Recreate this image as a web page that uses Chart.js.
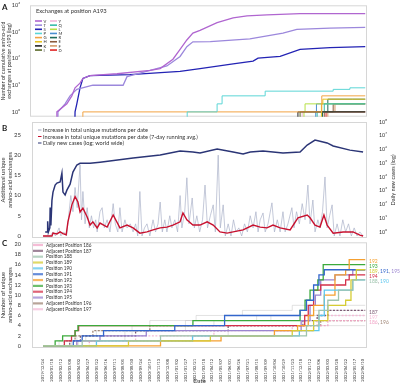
<!DOCTYPE html>
<html lang="en">
<head>
<meta charset="UTF-8">
<title>Exchanges at position A193</title>
<script src="https://cdn.jsdelivr.net/npm/chart.js"></script>
<style>
  body { margin: 0; background: #fff; }
  #wrap { position: relative; width: 400px; height: 386px; overflow: hidden; font-family: Lato, sans-serif; }
  #wrap canvas { position: absolute; left: 0; }
  .tag { position: absolute; left: 2px; font: bold 8px Lato, sans-serif; color: #222; }
</style>
</head>
<body>
<div id="wrap">
  <canvas id="chartA" width="400" height="122" style="top:0"></canvas>
  <canvas id="chartB" width="400" height="144" style="top:110px"></canvas>
  <canvas id="chartC" width="400" height="150" style="top:236px"></canvas>
  <div class="tag" style="top:2px">A</div>
  <div class="tag" style="top:123px">B</div>
  <div class="tag" style="top:238px">C</div>
</div>

<script>
// ---- data: days counted from 2019/12/24 ----
const dateTicks = ['2019/12/24','2020/01/18','2020/02/12','2020/03/08','2020/04/02','2020/04/27','2020/05/22',
  '2020/06/16','2020/07/11','2020/08/05','2020/08/30','2020/09/24','2020/10/19','2020/11/13','2020/12/08',
  '2021/01/02','2021/01/27','2021/02/21','2021/03/18','2021/04/12','2021/05/07','2021/06/01','2021/06/26',
  '2021/07/21','2021/08/15','2021/09/09','2021/10/04','2021/10/29','2021/11/23','2021/12/18','2022/01/12',
  '2022/02/06','2022/03/03','2022/03/28','2022/04/22','2022/05/17','2022/06/10'];

// panel A: cumulative exchanges at A193, [day, count]
const exchCodes  = ['V','T','S','P','G','H','K','I','Y','Q','L','M','R','E','F','D'];
const exchColors = ['#b066d0','#9c88dc','#2323b4','#5cd6d6','#f2a444','#e6c21e','#222222','#5b6b2a',
                    '#f2b8d8','#36bca8','#b6e046','#4a8fd0','#1f6b5a','#8b5a3c','#d49a6a','#e02424'];
const exV = [[39,1],[67,2],[81,4],[90,8],[104,12],[112,18],[132,23],[208,27],[301,36],[329,42],[365,95],
  [385,220],[404,500],[421,900],[441,1150],[489,2240],[534,3400],[573,4000],[629,4350],[722,4900],[905,4900]];
const exT = [[42,1],[62,2],[76,4],[95,7],[140,10],[225,10],[236,21],[301,36],[348,53],[385,120],[404,280],[421,425],
  [470,430],[581,550],[674,900],[713,1250],[806,1400],[905,1480]];
const exS = [[90,1],[95,2],[104,8],[112,18],[132,23],[244,25],[385,33],[441,42],[534,63],[590,80],[604,104],
  [666,122],[722,220],[806,260],[905,280]];
const exP = [[405,1],[489,2],[503,4],[624,6],[815,7],[862,8],[905,8]];
const exG = [[112,1],[783,4],[905,4]];
const exH = [[782,2],[786,3],[905,3]];
const exK = [[716,1],[905,1]];
const exI = [[722,1],[905,1]];
const exY = [[728,1],[905,1]];
const exQ = [[770,1],[790,2],[905,2]];
const exL = [[733,1],[736,2],[905,2]];
const exM = [[766,1],[768,2],[905,2]];
const exR = [[785,1],[800,3],[870,3],[905,3]];
const exE = [[790,1],[815,2],[905,2]];
const exF = [[800,1],[820,2],[905,2]];
const exD = [[795,1],[905,1]];

// panel B: unique mutations per date and daily world cases, [day, value]
const mutRaw = [[0,0],[20,0],[28,1],[35,0],[45,2],[50,0],[58,1],[66,0],[72,5],[78,10],[84,6],[90,12],[96,7],
  [104,17.6],[108,4],[112,11],[118,3],[124,7],[130,2],[136,5],[142,2],[148,4],[152,1],[160,6],[166,7],[172,2],
  [180,4],[188,1],[197,8],[203,3],[210,1],[216,7],[222,1],[230,4],[236,2],[245,3],[253,1],[260,3],[266,0],
  [272,11],[278,0],[285,2],[292,3],[300,0],[309,4],[316,1],[323,3],[329,8.4],[335,1],[342,4],[348,1],[356,5],
  [362,2],[370,4],[378,1],[385,10],[390,2],[398,6],[404,14.4],[410,3],[419,9.4],[425,2],[432,5],[440,1],
  [448,4],[455,12.6],[462,2],[470,5],[478,7.7],[484,1],[492,20],[498,2],[506,7.7],[512,0],[520,3],[528,0],
  [535,4],[542,1],[550,2],[558,0],[566,3],[574,1],[582,5],[590,2],[598,6],[604,1],[610,4],[618,5.7],[624,1],
  [632,3],[643,8.2],[650,1],[658,4],[666,1],[674,6],[680,1],[688,3],[699,7],[705,2],[712,6],[720,3],[728,8],
  [736,4],[744,12.6],[750,3],[758,8.9],[764,1],[772,4],[778,2],[785,6],[792,14.6],[798,2],[805,5],[812,7.7],
  [818,0],[826,3],[834,0],[842,4],[850,1],[858,3],[866,0],[874,2],[882,0],[890,1],[899,0]];
const mutAvg = [[0,0],[25,0],[28,0.7],[39,0.5],[48,1],[56,0.6],[65,0.3],[70,3.5],[81,7.7],[90,9.7],[98,8.4],
  [104,5.9],[112,6.9],[124,4.7],[132,2.7],[140,3.5],[152,2],[160,3.2],[180,2.2],[197,5.2],[216,2],[236,2.7],
  [253,2],[272,0.7],[292,1],[309,1.5],[329,2],[348,2.2],[365,2.7],[385,3.5],[393,5.7],[404,4],[421,2.7],
  [441,2.7],[461,3.5],[478,2.7],[497,1],[517,0.7],[534,1],[562,1.5],[590,2.7],[610,2.2],[629,2],[646,2.7],
  [666,2],[694,1.5],[716,4.5],[742,5.2],[750,4.5],[764,2.7],[778,2.2],[789,5.2],[798,2.7],[815,0.7],[843,1],
  [871,1],[890,0.2],[899,0]];
const dailyCases = [[6,1],[12,1],[13,6],[15,1],[19,2],[20,60],[22,3],[25,200],[28,800],[34,2600],[39,3600],
  [48,4300],[53,19000],[56,800],[62,500],[67,1100],[76,3000],[84,23000],[95,75000],[104,100000],[132,100000],
  [160,120000],[253,240000],[329,400000],[385,780000],[421,650000],[441,560000],[489,1100000],[534,650000],
  [562,470000],[582,650000],[618,780000],[674,560000],[722,650000],[742,2100000],[764,4900000],[798,3000000],
  [815,1800000],[862,900000],[899,650000]];

// panel C: unique exchanges per position, [day, count]
const posNames  = ['Adjacent Position 186','Adjacent Position 187','Position 188','Position 189','Position 190',
  'Position 191','Position 192','Position 193','Position 194','Position 195','Adjacent Position 196','Adjacent Position 197'];
const posColors = ['#f2a6c8','#7c5a74','#9fc4ae','#d6cc34','#5cc6ee','#3366cc','#f5a030','#3caa3c','#d4304a',
  '#9b85d0','#a08676','#f4bcd8'];
const posDashed = [true,true,false,false,false,false,false,false,false,false,true,true];
const p186 = [[0,0],[130,1],[420,2],[650,3],[760,4],[800,5],[905,5]];
const p187 = [[0,0],[75,1],[105,2],[260,3],[520,4],[730,5],[770,6],[800,7],[905,7]];
const p188 = [[0,0],[110,1],[330,2],[740,4],[775,7],[800,9],[830,11],[870,13],[905,13]];
const p189 = [[0,0],[240,1],[470,2],[700,3],[760,5],[800,8],[850,9],[865,13],[880,15],[905,15]];
const p190 = [[0,0],[150,1],[420,2],[720,3],[775,6],[790,11],[870,13],[905,13]];
const p191 = [[0,0],[85,1],[110,2],[170,3],[370,4],[510,6],[722,7],[740,9],[760,12],[775,14],[790,15],[905,15]];
const p192 = [[0,0],[330,1],[500,2],[650,3],[715,4],[745,6],[760,8],[790,10],[820,14],[850,15],[860,17],[905,17]];
const p193 = [[0,0],[34,1],[55,2],[90,3],[98,4],[421,5],[722,7],[736,9],[750,11],[772,13],[787,16],[905,16]];
const p194 = [[0,0],[60,1],[80,2],[90,3],[100,4],[720,4],[735,6],[745,8],[760,11],[780,12],[850,13],[860,14],[905,14]];
const p195 = [[0,0],[95,1],[160,2],[290,3],[725,5],[750,8],[765,10],[780,13],[820,14],[870,15],[905,15]];
const p196 = [[0,0],[60,1],[90,2],[140,3],[300,4],[780,5],[905,5]];
const p197 = [[0,0],[95,1],[260,2],[480,3],[700,4],[770,5],[800,6],[905,6]];
const bgLine1 = [[0,0],[45,1],[95,2],[150,3],[300,5],[430,6],[560,7],[700,8],[905,8]];
const bgLine2 = [[0,0],[80,1],[120,2],[250,4],[480,5],[640,6],[905,6]];
const bgLine3 = [[0,0],[100,1],[330,2],[520,3],[760,4],[905,4]];
const bgLine4 = [[0,0],[60,1],[230,3],[400,5],[600,6],[760,7],[905,7]];

const logTicksA = [1, 10, 100, 1000, 10000];
const logTicksB = [1, 10, 100, 1e3, 1e4, 1e5, 1e6, 1e7, 1e8];
const linTicksB = [0, 5, 10, 15, 20, 25];
const linTicksC = [0, 2, 4, 6, 8, 10, 12, 14, 16, 18, 20];

// ---- helpers ----
const FONT = 'Lato, sans-serif';
const START = Date.UTC(2019, 11, 24);
function dayOf(s) {
  const [y, m, d] = s.split('/').map(Number);
  return (Date.UTC(y, m - 1, d) - START) / 86400000;
}
const pts = arr => arr.map(([x, y]) => ({ x, y }));
// start step lines from below the log axis so they rise as a vertical bar
const fromBelow = arr => [{ x: arr[0][0] - 1, y: 0.1 }].concat(pts(arr));
const SUP = '⁰¹²³⁴⁵⁶⁷⁸⁹';
const pow10 = v => '10' + SUP[Math.round(Math.log10(v))];
const fixTicks = list => scale => { scale.ticks = list.map(v => ({ value: v })); };
const fixWidth = w => scale => { scale.width = w; };
const font = size => ({ family: FONT, size });

const frame = {
  id: 'frame',
  beforeDatasetsDraw(chart) {
    const a = chart.chartArea, ctx = chart.ctx;
    ctx.save();
    ctx.strokeStyle = '#d6d6d6';
    ctx.lineWidth = 1;
    ctx.strokeRect(a.left + 0.5, a.top + 0.5, a.width - 1, a.height - 1);
    ctx.restore();
  }
};

Chart.defaults.animation = false;
Chart.defaults.responsive = false;
Chart.defaults.plugins.legend.display = false;
Chart.defaults.plugins.tooltip.enabled = false;
Chart.defaults.elements.point.radius = 0;
Chart.defaults.color = '#333';

// ---- panel A ----
const exSeries = [exV, exT, exS, exP, exG, exH, exK, exI, exY, exQ, exL, exM, exR, exE, exF, exD];

const legendA = {
  id: 'legendA',
  afterDraw(chart) {
    const ctx = chart.ctx;
    ctx.save();
    ctx.textBaseline = 'middle';
    ctx.fillStyle = '#333';
    ctx.font = '5.8px ' + FONT;
    ctx.fillText('Exchanges at position A193', 36, 11);
    ctx.font = '4.2px ' + FONT;
    exchCodes.forEach((code, i) => {
      const lx = 35 + (i < 8 ? 0 : 15), ly = 21 + (i % 8) * 4.15;
      ctx.strokeStyle = exchColors[i];
      ctx.lineWidth = 1.6;
      ctx.beginPath(); ctx.moveTo(lx, ly); ctx.lineTo(lx + 7, ly); ctx.stroke();
      ctx.fillText(code, lx + 8.5, ly + 0.3);
    });
    ctx.restore();
  }
};

new Chart(document.getElementById('chartA'), {
  type: 'line',
  data: {
    datasets: exSeries.map((s, i) => ({
      data: fromBelow(s),
      borderColor: exchColors[i],
      borderWidth: i < 3 ? 1.3 : 1,
      stepped: i >= 3,   // the three big series have many small steps, drawn as a plain line
      order: i
    }))
  },
  options: {
    layout: { autoPadding: false, padding: { top: 4, bottom: 2, left: 0, right: 33 } },
    scales: {
      x: { type: 'linear', min: -36.5, max: 910, display: false },
      y: {
        type: 'logarithmic', min: 0.66, max: 10000,
        afterFit: fixWidth(30),
        afterBuildTicks: fixTicks(logTicksA),
        grid: { display: false }, border: { display: false },
        ticks: { callback: v => pow10(v), font: font(5.5), padding: 2 },
        title: { display: true, text: ['Number of cumulative amino-acid', 'exchanges at position A193 (log)'],
                 font: font(5.3), padding: 0 }
      }
    }
  },
  plugins: [frame, legendA]
});

// ---- panel B ----
const legendB = {
  id: 'legendB',
  afterDraw(chart) {
    const ctx = chart.ctx;
    const rows = [
      ['Increase in total unique mutations per date', '#9aa3bb'],
      ['Increase in total unique mutations per date (7-day running avg.)', '#c8102e'],
      ['Daily new cases (log; world wide)', '#2b3576']
    ];
    ctx.save();
    ctx.textBaseline = 'middle';
    ctx.font = '5.6px ' + FONT;
    rows.forEach(([t, c], i) => {
      const ly = 20 + i * 6.5;
      ctx.strokeStyle = c; ctx.lineWidth = 1;
      ctx.beginPath(); ctx.moveTo(38, ly); ctx.lineTo(41.5, ly); ctx.stroke();
      ctx.fillStyle = '#333';
      ctx.fillText(t, 43, ly + 0.3);
    });
    // right axis title, reading upward
    ctx.translate(393, chart.chartArea.top + chart.chartArea.height / 2);
    ctx.rotate(-Math.PI / 2);
    ctx.textAlign = 'center';
    ctx.fillText('Daily new cases (log)', 0, 0);
    ctx.restore();
  }
};

new Chart(document.getElementById('chartB'), {
  type: 'line',
  data: {
    datasets: [
      { data: pts(mutAvg), borderColor: '#c8102e', borderWidth: 1.4, yAxisID: 'y', order: 0 },
      { data: pts(dailyCases), borderColor: '#2b3576', borderWidth: 1.5, yAxisID: 'y1', order: 1 },
      { data: pts(mutRaw), borderColor: '#aab2c8', borderWidth: 0.7, yAxisID: 'y', order: 2 }
    ]
  },
  options: {
    layout: { autoPadding: false, padding: { top: 12, bottom: 16, left: 0, right: 0 } },
    scales: {
      x: { type: 'linear', min: -31, max: 910, display: false },
      y: {
        type: 'linear', position: 'left', min: -0.5, max: 28.2,
        afterFit: fixWidth(32),
        afterBuildTicks: fixTicks(linTicksB),
        grid: { display: false }, border: { display: false },
        ticks: { font: font(6), padding: 3 },
        title: { display: true, text: ['Additional unique', 'amino-acid exchanges'], font: font(5.8), padding: 0 }
      },
      y1: {
        type: 'logarithmic', position: 'right', min: 0.366, max: 1e8,
        afterFit: fixWidth(33),
        afterBuildTicks: fixTicks(logTicksB),
        grid: { display: false }, border: { display: false },
        ticks: { callback: v => pow10(v), font: font(5.3), padding: 4 }
      }
    }
  },
  plugins: [frame, legendB]
});

// ---- panel C ----
const posSeries = [p186, p187, p188, p189, p190, p191, p192, p193, p194, p195, p196, p197];
const bgSeries = [bgLine1, bgLine2, bgLine3, bgLine4];

// groups of series indices sharing one label at the right end
const endLabels = [[6], [7], [3, 5, 9], [8], [2, 4], [1], [11], [0, 10]];

const legendC = {
  id: 'legendC',
  afterDraw(chart) {
    const ctx = chart.ctx, ys = chart.scales.y;
    ctx.save();
    ctx.textBaseline = 'middle';
    ctx.font = '4.7px ' + FONT;
    posNames.forEach((name, i) => {
      const ly = 9 + i * 5.84;
      ctx.strokeStyle = posColors[i]; ctx.globalAlpha = 0.75; ctx.lineWidth = 2.2;
      ctx.beginPath(); ctx.moveTo(33, ly); ctx.lineTo(43, ly); ctx.stroke();
      ctx.globalAlpha = 1;
      ctx.fillStyle = '#333';
      ctx.fillText(name, 46, ly + 0.2);
    });
    // labels at the right end of the lines
    ctx.font = '5px ' + FONT;
    endLabels.forEach(idx => {
      const s = posSeries[idx[0]];
      const y = ys.getPixelForValue(s[s.length - 1][1]) + 1.5;
      let x = 369;
      idx.forEach((k, j) => {
        if (j > 0) { ctx.fillStyle = '#777'; ctx.fillText(', ', x, y); x += ctx.measureText(', ').width; }
        const t = posNames[k].slice(-3);
        ctx.fillStyle = posColors[k];
        ctx.fillText(t, x, y);
        x += ctx.measureText(t).width;
      });
    });
    ctx.restore();
  }
};

new Chart(document.getElementById('chartC'), {
  type: 'line',
  data: {
    datasets: bgSeries.map(s => ({
      data: pts(s), borderColor: 'rgba(175,175,175,0.45)', borderWidth: 0.8, stepped: true, order: 20
    })).concat(posSeries.map((s, i) => ({
      data: pts(s),
      borderColor: posColors[i],
      borderWidth: 1.3,
      borderDash: posDashed[i] ? [2, 1.5] : [],
      stepped: true,
      order: posDashed[i] ? 12 : i
    })))
  },
  options: {
    layout: { autoPadding: false, padding: { top: 5, bottom: 0, left: 0, right: 33 } },
    scales: {
      x: {
        type: 'linear', min: -31, max: 910,
        afterFit: scale => { scale.height = 38; },
        afterBuildTicks: scale => { scale.ticks = dateTicks.map(d => ({ value: dayOf(d) })); },
        grid: { display: false }, border: { display: false },
        ticks: { autoSkip: false, minRotation: 90, maxRotation: 90, font: font(4.1), padding: 3,
                 callback: (v, i) => dateTicks[i] },
        title: { display: true, text: 'Date', font: font(6), padding: { top: 0, bottom: 1 } }
      },
      y: {
        type: 'linear', min: -0.4, max: 20.4,
        afterFit: fixWidth(32),
        afterBuildTicks: fixTicks(linTicksC),
        grid: { display: false }, border: { display: false },
        ticks: { font: font(5.5), padding: 3 },
        title: { display: true, text: ['Number of unique', 'amino-acid exchanges'], font: font(5.8), padding: 0 }
      }
    }
  },
  plugins: [frame, legendC]
});
</script>
</body>
</html>
